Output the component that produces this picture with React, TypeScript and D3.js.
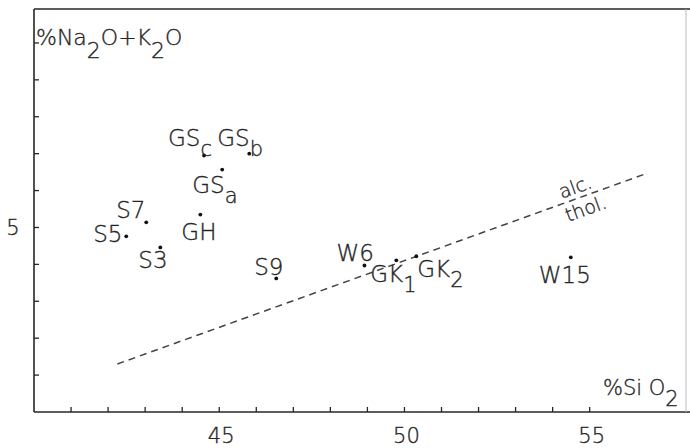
import React from "react";
import * as d3 from "d3";

const W = 690;
const H = 448;

// samples: SiO2 %, Na2O+K2O %
const names = ["GSc", "GSb", "GSa", "S7", "S5", "GH", "S3", "S9", "W6", "GK1", "GK2", "W15"];
const sio2 = [44.59, 45.81, 45.08, 43.03, 42.49, 44.49, 43.41, 46.54, 48.92, 49.78, 50.32, 54.49];
const alkali = [6.95, 7.0, 6.57, 5.14, 4.76, 5.35, 4.46, 3.62, 3.97, 4.11, 4.22, 4.19];

// alkaline / tholeiitic divide
const divideSiO2 = [42.25, 56.5];
const divideAlk = [1.3, 6.45];

const xTicks = [41, 42, 43, 44, 45, 46, 47, 48, 49, 50, 51, 52, 53, 54, 55];
const xTickLabels = [45, 50, 55];
const yTicks = [1, 2, 3, 4, 5, 6, 7, 8, 9, 10];
const yTickLabels = [5];

// label layout: main text, subscript, offset from the point (px)
const labelLayout: Record<string, { main: string; sub?: string; dx: number; dy: number }> = {
  GSc: { main: "GS", sub: "c", dx: -36, dy: -10 },
  GSb: { main: "GS", sub: "b", dx: -32, dy: -8 },
  GSa: { main: "GS", sub: "a", dx: -30, dy: 23 },
  S7: { main: "S7", dx: -30, dy: -4 },
  S5: { main: "S5", dx: -33, dy: 6 },
  GH: { main: "GH", dx: -19, dy: 25 },
  S3: { main: "S3", dx: -22, dy: 21 },
  S9: { main: "S9", dx: -22, dy: -3 },
  W6: { main: "W6", dx: -28, dy: -4 },
  GK1: { main: "GK", sub: "1", dx: -26, dy: 22 },
  GK2: { main: "GK", sub: "2", dx: 1, dy: 21 },
  W15: { main: "W15", dx: -32, dy: 26 },
};

const INK = "#262626";
const FONT = "'DejaVu Sans', 'Open Sans', sans-serif";

export default function App() {
  const x = d3.scaleLinear().domain([40, 57.6]).range([34, 686]);
  const y = d3.scaleLinear().domain([0, 10.92]).range([412, 9]);

  const line = d3
    .line<number>()
    .x((_, i) => x(divideSiO2[i]))
    .y((d) => y(d));

  const angle =
    (Math.atan2(y(divideAlk[1]) - y(divideAlk[0]), x(divideSiO2[1]) - x(divideSiO2[0])) * 180) / Math.PI;
  const ax = x(54.75);
  const ay = y(divideAlk[0] + ((54.75 - divideSiO2[0]) / (divideSiO2[1] - divideSiO2[0])) * (divideAlk[1] - divideAlk[0]));

  const txt = { fill: INK, stroke: INK, strokeWidth: 0.35 };

  return (
    <div style={{ position: "fixed", left: 0, top: 0, width: W, height: H, background: "#fff" }}>
      <svg width={W} height={H} style={{ display: "block", fontFamily: FONT, fontWeight: 200 }}>
        <rect width={W} height={H} fill="#fff" />
        {/* frame */}
        <line x1={x(40)} x2={W} y1={y(0)} y2={y(0)} stroke={INK} strokeWidth={1.6} />
        <line x1={x(40)} x2={x(40)} y1={y(0)} y2={y(10.92)} stroke={INK} strokeWidth={1.6} />
        <line x1={x(40)} x2={W} y1={y(10.92)} y2={y(10.92)} stroke={INK} strokeWidth={1.4} />
        <line x1={686} x2={686} y1={y(10.92)} y2={y(0)} stroke="#bbb" strokeWidth={1} />

        {xTicks.map((t) => (
          <line key={"xt" + t} x1={x(t)} x2={x(t)} y1={y(0)} y2={y(0) - 5} stroke={INK} strokeWidth={1.3} />
        ))}
        {yTicks.map((t) => (
          <line key={"yt" + t} x1={x(40)} x2={x(40) + 5} y1={y(t)} y2={y(t)} stroke={INK} strokeWidth={1.3} />
        ))}
        {xTickLabels.map((t) => (
          <text key={"xl" + t} x={x(t) + 2} y={443} textAnchor="middle" fontSize={21} {...txt}>
            {t}
          </text>
        ))}
        {yTickLabels.map((t) => (
          <text key={"yl" + t} x={13} y={y(t) + 8} textAnchor="middle" fontSize={21} {...txt}>
            {t}
          </text>
        ))}

        {/* axis titles */}
        <text x={36} y={45} fontSize={22} {...txt}>
          %Na<tspan dy={13}>2</tspan>
          <tspan dy={-13}>O+K</tspan>
          <tspan dy={13}>2</tspan>
          <tspan dy={-13}>O</tspan>
        </text>
        <text x={603} y={395} fontSize={21} {...txt}>
          %Si O<tspan dy={11}>2</tspan>
        </text>

        {/* divide */}
        <path
          d={line(divideAlk) || ""}
          fill="none"
          stroke="#444"
          strokeWidth={1.5}
          strokeDasharray="7,5"
        />
        <g transform={`translate(${ax},${ay}) rotate(${angle})`} fontSize={19} {...txt}>
          <text x={-18} y={-5}>alc.</text>
          <text x={-20} y={19}>thol.</text>
        </g>

        {/* samples */}
        {names.map((n, i) => {
          const px = x(sio2[i]);
          const py = y(alkali[i]);
          const l = labelLayout[n];
          return (
            <g key={n}>
              <circle cx={px} cy={py} r={1.9} fill="#111" />
              <text x={px + l.dx} y={py + l.dy} fontSize={23} {...txt}>
                {l.main}
                {l.sub && (
                  <tspan dy={10} fontSize={21}>
                    {l.sub}
                  </tspan>
                )}
              </text>
            </g>
          );
        })}
      </svg>
    </div>
  );
}
